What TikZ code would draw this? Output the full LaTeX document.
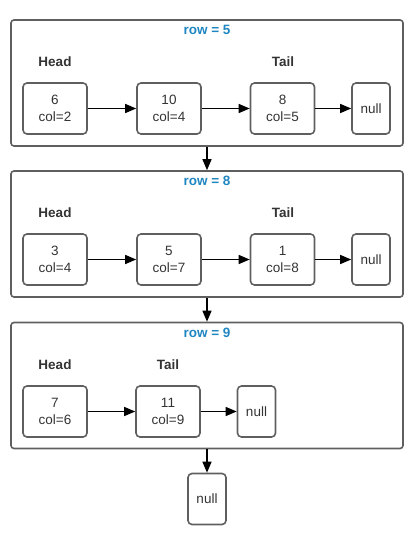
\documentclass[tikz,border=0pt]{standalone}
\usepackage{fontspec}
\setmainfont{Liberation Sans}
\usepackage{xcolor}
\usepackage{tikz}
\usetikzlibrary{arrows.meta}
\definecolor{boxgray}{HTML}{5F5F5F}
\definecolor{txtgray}{HTML}{333333}
\definecolor{rowblue}{HTML}{1F86C1}

\begin{document}
\begin{tikzpicture}[x=1pt,y=-1pt,
  rowbox/.style={draw=boxgray,line width=1.6pt,rounded corners=3pt,minimum width=392pt,minimum height=126pt,inner sep=0pt},
  cell/.style={draw=boxgray,line width=1.6pt,rounded corners=4pt,minimum width=64pt,minimum height=51pt,inner sep=0pt,align=center,text=txtgray,font=\fontsize{13.5}{17}\selectfont},
  nullcell/.style={cell,minimum width=38pt},
  rowtitle/.style={text=rowblue,font=\fontsize{13.5}{16}\selectfont\bfseries},
  tag/.style={text=txtgray,font=\fontsize{13.5}{16}\selectfont\bfseries},
  link/.style={-{Triangle[length=11pt,width=9pt]},line width=1.3pt,black}]
\useasboundingbox (0,0) rectangle (411,534);

% row = 5
\node[rowbox] (row5) at (207,83) {};
\node[rowtitle] (t5) at (207,30) {row = 5};
\node[tag] (h5) at (55,62) {Head};
\node[tag] (l5) at (283,62) {Tail};
\node[cell] (a5) at (55,108.5) {6\\col=2};
\node[cell] (b5) at (169,108.5) {10\\col=4};
\node[cell] (c5) at (282.5,108.5) {8\\col=5};
\node[nullcell] (n5) at (371,108.5) {null};
\draw[link] (a5) -- (b5);
\draw[link] (b5) -- (c5);
\draw[link] (c5) -- (n5);

% row = 8
\node[rowbox] (row8) at (207,234) {};
\node[rowtitle] (t8) at (207,181) {row = 8};
\node[tag] (h8) at (55,213) {Head};
\node[tag] (l8) at (283,213) {Tail};
\node[cell] (a8) at (55,259.5) {3\\col=4};
\node[cell] (b8) at (169,259.5) {5\\col=7};
\node[cell] (c8) at (282.5,259.5) {1\\col=8};
\node[nullcell] (n8) at (371,259.5) {null};
\draw[link] (a8) -- (b8);
\draw[link] (b8) -- (c8);
\draw[link] (c8) -- (n8);

% row = 9
\node[rowbox] (row9) at (207,385.5) {};
\node[rowtitle] (t9) at (207,333) {row = 9};
\node[tag] (h9) at (55,365) {Head};
\node[tag] (l9) at (168,365) {Tail};
\node[cell] (a9) at (55,411.5) {7\\col=6};
\node[cell] (b9) at (168,411.5) {11\\col=9};
\node[nullcell] (n9) at (256.5,411.5) {null};
\draw[link] (a9) -- (b9);
\draw[link] (b9) -- (n9);

\node[nullcell] (nend) at (207,499) {null};

\draw[link] (row5) -- (row8);
\draw[link] (row8) -- (row9);
\draw[link] (row9) -- (nend);

\end{tikzpicture}
\end{document}
